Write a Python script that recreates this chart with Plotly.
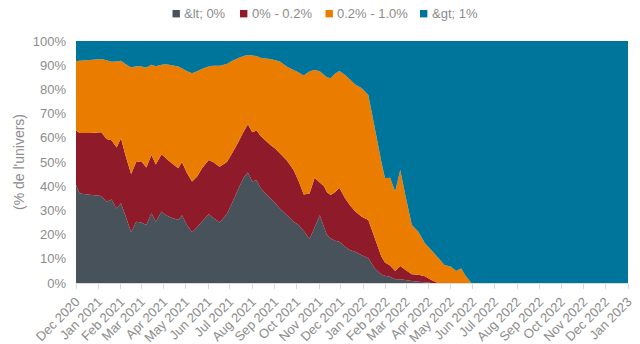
import plotly.graph_objects as go

dates = [
    "2020-12-01", "2020-12-06", "2020-12-20", "2021-01-05", "2021-01-12", "2021-01-19",
    "2021-01-26", "2021-02-01", "2021-02-07", "2021-02-15", "2021-02-22", "2021-03-01",
    "2021-03-08", "2021-03-15", "2021-03-21", "2021-03-29", "2021-04-04", "2021-04-12",
    "2021-04-21", "2021-04-26", "2021-05-03", "2021-05-10", "2021-05-17", "2021-05-24",
    "2021-06-02", "2021-06-08", "2021-06-17", "2021-06-27", "2021-07-04", "2021-07-13",
    "2021-07-20", "2021-07-26", "2021-08-01", "2021-08-07", "2021-08-12", "2021-08-19",
    "2021-08-26", "2021-09-02", "2021-09-08", "2021-09-18", "2021-09-27", "2021-10-04",
    "2021-10-11", "2021-10-19", "2021-10-26", "2021-11-02", "2021-11-08", "2021-11-12",
    "2021-11-17", "2021-11-23", "2021-11-29", "2021-12-07", "2021-12-14", "2021-12-21",
    "2021-12-30", "2022-01-08", "2022-01-17", "2022-01-26", "2022-01-31", "2022-02-07",
    "2022-02-14", "2022-02-21", "2022-02-28", "2022-03-09", "2022-03-18", "2022-03-27",
    "2022-04-05", "2022-04-14", "2022-04-23", "2022-05-02", "2022-05-09", "2022-05-16",
    "2022-05-22", "2022-05-30", "2023-01-01",
]

lt_0 = [
    40.5, 37, 36.5, 36, 33.6, 34.5, 30.8, 33, 28, 21, 25.3, 25, 24, 28.8, 25.3, 29.5,
    28, 27, 26, 28, 24, 21, 23, 25.5, 28.4, 27, 25, 28.5, 33, 39, 43.5, 45.7, 41.9,
    42.5, 39.5, 37, 35, 33, 30.8, 28, 25.3, 24, 21.5, 18.2, 23, 28, 23, 19.8, 18.5,
    17.5, 17, 15, 13.5, 12.9, 11.5, 10.2, 6, 3.5, 3, 2.6, 1.5, 1.5, 1.2, 0.8, 0.5,
    0.3, 0, 0, 0, 0, 0, 0, 0, 0, 0,
]
r_0_02 = [
    22.5, 25, 25.5, 26.3, 25.9, 24.5, 25.2, 26.8, 25, 24, 24.7, 25.3, 23.7, 24.1, 23.7,
    23.7, 23.5, 22.5, 21.4, 22, 21.5, 20.9, 21, 22, 22.4, 23, 23, 21.5, 20.5, 19.4, 19,
    19.9, 20.4, 20.5, 21.5, 22, 22, 22.5, 22.8, 22.5, 21.4, 18, 15.1, 18.8, 20.5, 13.5,
    17, 17.7, 17.9, 20, 22.4, 20, 18.5, 16.6, 15.9, 15.8, 12.5, 7.4, 5.5, 4.6, 3.5, 5.5,
    4.3, 2.8, 2.9, 2.5, 1.2, 0, 0, 0, 0, 0, 0, 0, 0,
]
r_02_10 = [
    28.7, 29.8, 30.2, 30.3, 32.5, 32.4, 35.5, 32, 37.5, 44, 39.6, 39.2, 41.3, 37.3, 40.6,
    37, 38.9, 40.5, 42.1, 38.7, 42, 44.8, 43.5, 41, 38.7, 39.8, 41.8, 40.5, 38.2, 34.6,
    31.3, 28.6, 31.7, 30.8, 32.1, 33.8, 35.6, 36.5, 37.9, 38.9, 41.3, 45, 49.1, 50.5,
    44.5, 46, 46, 47.5, 48.2, 49, 48.2, 51, 52, 52.5, 53.1, 51.7, 45.4, 39.1, 34.8, 36.3,
    32.8, 39.7, 30.9, 20.4, 17.8, 13.6, 12.3, 10.5, 7.4, 6.7, 5, 6, 3, 0, 0,
]
gt_1 = [
    8.3, 8.2, 7.8, 7.4, 8, 8.6, 8.5, 8.2, 9.5, 11, 10.4, 10.5, 11, 9.8, 10.4, 9.8, 9.6,
    10, 10.5, 11.3, 12.5, 13.3, 12.5, 11.5, 10.5, 10.2, 10.2, 9.5, 8.3, 7, 6.2, 5.8, 6,
    6.2, 6.9, 7.2, 7.4, 8, 8.5, 10.6, 12, 13, 14.3, 12.5, 12, 12.5, 14, 15, 15.4, 13.5,
    12.4, 14, 16, 18, 19.5, 22.3, 36.1, 50, 56.7, 56.5, 62.2, 53.3, 63.6, 76, 78.8, 83.6,
    86.5, 89.5, 92.6, 93.3, 95, 94, 97, 100, 100,
]

series_names = ["&amp;lt; 0%", "0% - 0.2%", "0.2% - 1.0%", "&amp;gt; 1%"]
series_values = [lt_0, r_0_02, r_02_10, gt_1]
colors = ["#48525a", "#8e1a2a", "#ea7d00", "#00759b"]

# layout geometry (pixels)
W, H = 640, 344
ML, MR, MT, MB = 76, 12, 41, 61
PW, PH = W - ML - MR, H - MT - MB
legend_square_px = [172.5, 240.0, 325.5, 420.0]  # left edges of legend squares
legend_y_px = 13.7
sq = 7.4


def px_x(px):
    return (px - ML) / PW


def px_y(py):
    return (H - MB - py) / PH


fig = go.Figure()
for name, vals, col in zip(series_names, series_values, colors):
    fig.add_trace(go.Scatter(
        x=dates, y=vals, name=name, stackgroup="one", mode="none",
        fillcolor=col, line=dict(width=0, color=col), hoverinfo="skip",
        showlegend=False,
    ))

font_family = "Liberation Sans, Arial, sans-serif"
gray = "#8c8c8c"

# hand-placed legend (squares + text)
for name, col, x0 in zip(series_names, colors, legend_square_px):
    fig.add_shape(
        type="rect", xref="paper", yref="paper",
        x0=px_x(x0), x1=px_x(x0 + sq),
        y0=px_y(legend_y_px + sq / 2), y1=px_y(legend_y_px - sq / 2),
        fillcolor=col, line=dict(width=0),
    )
    fig.add_annotation(
        xref="paper", yref="paper", x=px_x(x0 + sq + 2.5), y=px_y(legend_y_px),
        xanchor="left", yanchor="middle", showarrow=False, text=name,
        font=dict(size=13, color=gray, family=font_family),
    )

fig.update_layout(
    width=W, height=H,
    margin=dict(l=ML, r=MR, t=MT, b=MB, autoexpand=False),
    paper_bgcolor="white", plot_bgcolor="white",
    font=dict(family=font_family, color=gray, size=13),
    showlegend=False,
    xaxis=dict(
        type="date", range=["2020-12-01", "2023-01-01"],
        tick0="2020-12-01", dtick="M1", tickformat="%b %Y", tickangle=-45,
        showgrid=False, zeroline=False, showline=True, linecolor="#d9d9d9",
        ticks="outside", ticklen=5, tickcolor="#d9d9d9",
        tickfont=dict(size=13, color=gray), automargin=False,
    ),
    yaxis=dict(
        range=[0, 100], dtick=10, ticksuffix="%", showgrid=False, zeroline=False,
        showline=False, tickfont=dict(size=13, color=gray), automargin=False,
        ticklabelstandoff=9,
        title=dict(text="(% de l'univers)", font=dict(size=14, color=gray), standoff=4),
    ),
)

fig.write_html("out.html", config={"displayModeBar": False})
